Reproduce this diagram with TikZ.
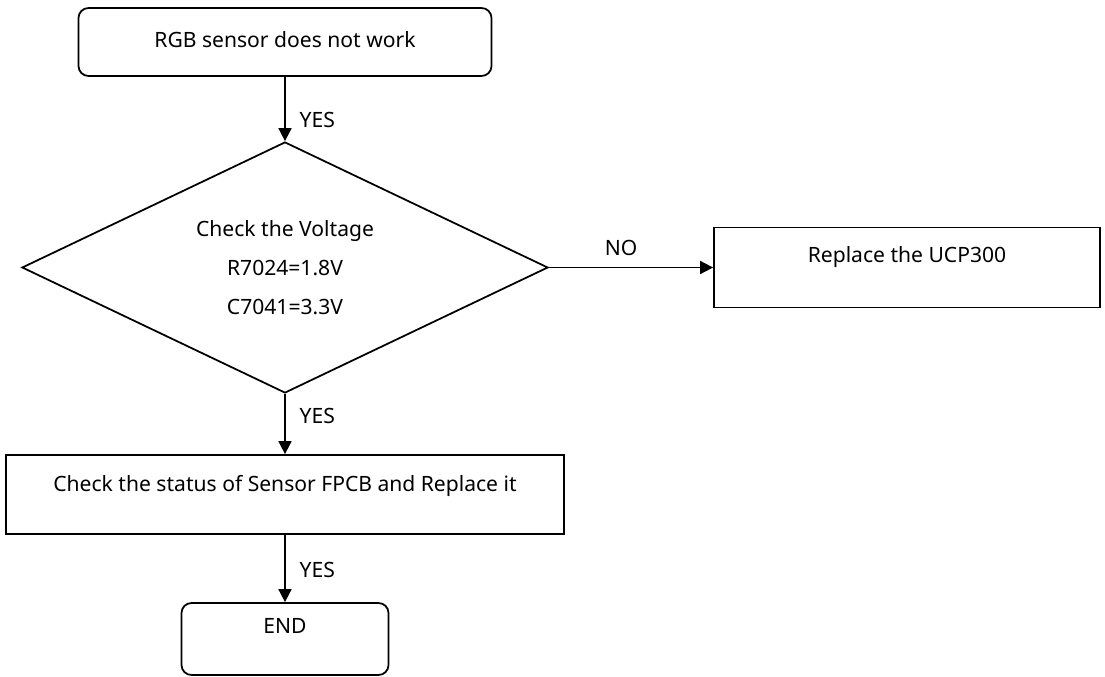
\documentclass[tikz,border=0pt]{standalone}
\usepackage{fontspec}
\setmainfont{Noto Sans}
\usetikzlibrary{arrows.meta,shapes.geometric}
\tikzset{
  block/.style={draw,rectangle,align=center,text height=9pt},
  term/.style={block,rounded corners=2mm},
  decision/.style={draw,diamond,aspect=2,align=center,inner sep=0pt},
  lbl/.style={right,xshift=1.6mm}
}
\begin{document}
\begin{tikzpicture}[>={Triangle[length=2.6mm,width=2.6mm]},line width=1pt,font=\fontsize{12}{13}\selectfont]
  \useasboundingbox (0,0) rectangle (22.1,-13.54);
  \node[term,minimum width=8.26cm,minimum height=1.36cm,text depth=3pt] (start) at (5.7,-0.84) {RGB sensor does not work};
  \node[decision,minimum width=10.52cm,minimum height=5.02cm] (volt) at (5.7,-5.35)
    {Check the Voltage\\[9pt]R7024=1.8V\\[9pt]C7041=3.3V};
  \node[block,minimum width=7.72cm,minimum height=1.6cm,text depth=15pt] (ucp) at (18.14,-5.35) {Replace the UCP300};
  \node[block,minimum width=11.16cm,minimum height=1.58cm,text depth=12pt] (fpcb) at (5.7,-9.89) {Check the status of Sensor FPCB and Replace it};
  \node[term,minimum width=4.14cm,minimum height=1.44cm,text depth=15pt] (fin) at (5.7,-12.78) {END};

  \draw[->] (start.south) -- (volt.north) node[lbl,pos=0.67]{YES};
  \draw[->] (volt.east) -- (ucp.west) node[midway,above,xshift=-2mm,yshift=1mm]{NO};
  \draw[->] (volt.south) -- (fpcb.north) node[lbl,pos=0.37]{YES};
  \draw[->] (fpcb.south) -- (fin.north) node[lbl,pos=0.52]{YES};
\end{tikzpicture}
\end{document}
